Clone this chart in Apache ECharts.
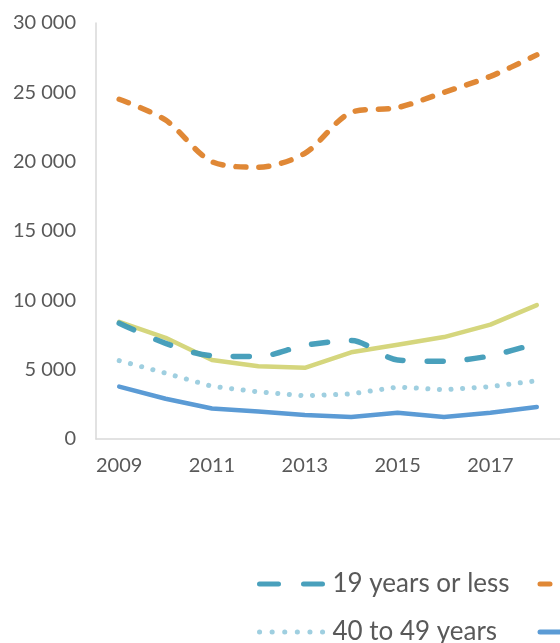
<!DOCTYPE html>
<html>
<head>
<meta charset="utf-8">
<script src="https://cdn.jsdelivr.net/npm/echarts@6/dist/echarts.min.js"></script>
<style>
html,body{margin:0;padding:0;background:#fff;}
#chart{width:560px;height:643px;}
</style>
</head>
<body>
<div id="chart"></div>
<script>
const years = ['2009','2010','2011','2012','2013','2014','2015','2016','2017','2018'];
const seriesNames = ['19 years or less','20 to 29 years','30 to 39 years','40 to 49 years','50 years or more'];
const under20 = [8350, 6900, 6000, 5950, 6750, 7100, 5700, 5600, 6000, 6900];
const age20to29 = [24500, 23000, 20000, 19600, 20600, 23550, 23900, 25000, 26150, 27700];
const age30to39 = [8450, 7300, 5700, 5250, 5130, 6250, 6800, 7350, 8250, 9650];
const age40to49 = [5650, 4750, 3800, 3400, 3120, 3250, 3750, 3550, 3780, 4200];
const age50plus = [3780, 2900, 2200, 1980, 1730, 1580, 1900, 1580, 1900, 2300];
const yTicks = ['0','5 000','10 000','15 000','20 000','25 000','30 000'];

const font = 'Lato, "Noto Sans", sans-serif';
const textColor = '#595959';
const colors = {u20:'#3f9bb8', a20:'#e08836', a30:'#d5d67d', a40:'#9fcfe0', a50:'#5b9bd5'};
const chart = echarts.init(document.getElementById('chart'), null, {renderer:'canvas'});
const legendText = {color: textColor, fontSize: 26, fontFamily: font, width: 185, lineHeight: 30};
const legendCommon = {left: 257, width: 1200, padding: 0, itemWidth: 68, itemHeight: 14, itemGap: 20,
  textStyle: legendText, orient: 'horizontal', itemStyle: {opacity: 0}};
chart.setOption({
  animation: false,
  grid: {left: 96, top: 23, width: 468, height: 416, containLabel: false},
  xAxis: {
    type: 'category', data: years, boundaryGap: true,
    axisLine: {lineStyle: {color: '#d9d9d9', width: 1.5}},
    axisTick: {show: false},
    axisLabel: {interval: 1, color: textColor, fontSize: 20, fontFamily: font, margin: 17}
  },
  yAxis: {
    type: 'value', min: 0, max: 30000, interval: 5000,
    axisLine: {show: true, lineStyle: {color: '#d9d9d9', width: 1.5}},
    axisTick: {show: false},
    splitLine: {show: false},
    axisLabel: {color: textColor, fontSize: 20, fontFamily: font, margin: 20,
      formatter: v => yTicks[Math.round(v/5000)]}
  },
  legend: [
    Object.assign({}, legendCommon, {top: 569, data: [
      {name: seriesNames[0], lineStyle: {width: 5, type: [19, 25]}},
      {name: seriesNames[1], lineStyle: {width: 5, type: [10, 13]}},
      {name: seriesNames[2], lineStyle: {width: 4.5}}
    ]}),
    Object.assign({}, legendCommon, {top: 617, data: [
      {name: seriesNames[3], lineStyle: {width: 5, type: [0.1, 12.5]}},
      {name: seriesNames[4], lineStyle: {width: 5}}
    ]})
  ],
  series: [
    {name: seriesNames[2], type: 'line', data: age30to39, symbol: 'none', z: 2,
     lineStyle: {color: colors.a30, width: 4.5, cap: 'round', join: 'round'}, itemStyle: {color: colors.a30}},
    {name: seriesNames[0], type: 'line', data: under20, symbol: 'none', smooth: 0.3, z: 3,
     lineStyle: {color: colors.u20, width: 5.5, type: [16, 24], cap: 'round', opacity: 0.95}, itemStyle: {color: colors.u20}},
    {name: seriesNames[1], type: 'line', data: age20to29, symbol: 'none', smooth: 0.3, z: 3,
     lineStyle: {color: colors.a20, width: 5.5, type: [10, 13], cap: 'round'}, itemStyle: {color: colors.a20}},
    {name: seriesNames[3], type: 'line', data: age40to49, symbol: 'none', z: 3,
     lineStyle: {color: colors.a40, width: 5, type: [0.1, 11.5], cap: 'round'}, itemStyle: {color: colors.a40}},
    {name: seriesNames[4], type: 'line', data: age50plus, symbol: 'none', z: 3,
     lineStyle: {color: colors.a50, width: 4.5, cap: 'round', join: 'round'}, itemStyle: {color: colors.a50}}
  ]
});
</script>
</body>
</html>
